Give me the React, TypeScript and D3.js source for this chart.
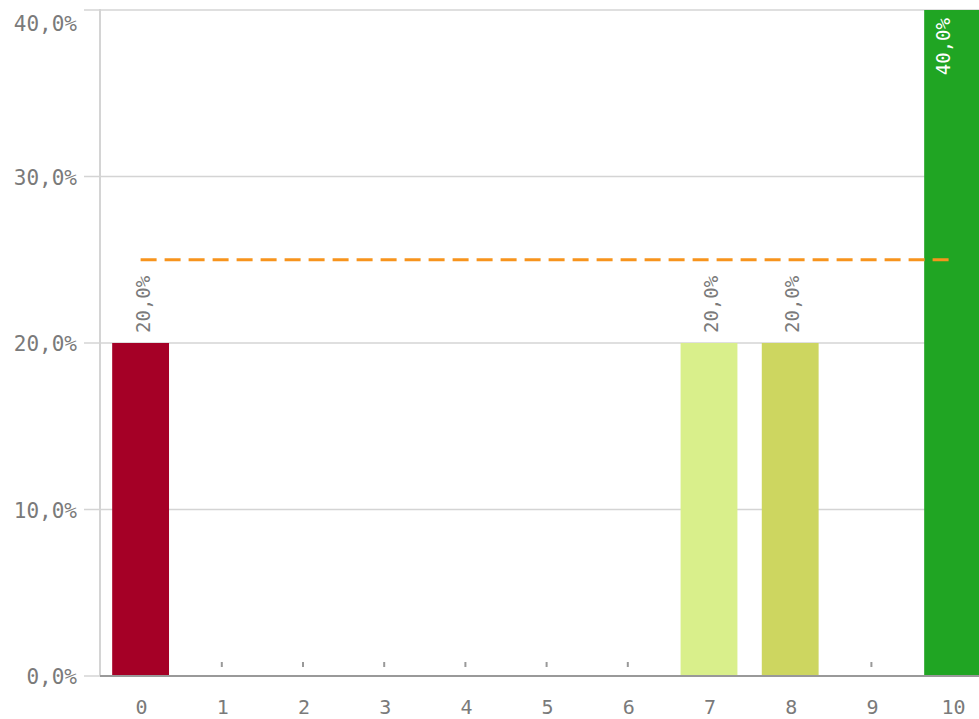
import React, { useEffect, useRef } from "react";
import { select, scaleBand, scaleLinear, format } from "d3";

const categories = ["0", "1", "2", "3", "4", "5", "6", "7", "8", "9", "10"];
const shares = [20, 0, 0, 0, 0, 0, 0, 20, 20, 0, 40];
const barColors = ["#a50026", "#a50026", "#a50026", "#a50026", "#a50026", "#a50026", "#a50026", "#d9ef8b", "#cdd660", "#1a9641", "#20a523"];
const yTicks = [0, 10, 20, 30, 40];
const targetValue = 25;

const fmt = (v: number) => format(".1f")(v).replace(".", ",") + "%";

const App = () => {
    const ref = useRef<SVGSVGElement>(null);

    useEffect(() => {
        const width = 979;
        const svg = select(ref.current);
        svg.selectAll("*").remove();

        const left = 100;
        const top = 10;
        const bottom = 676;

        const x = scaleBand<string>().domain(categories).range([left, left + 11 * 81.2]).paddingInner(0.3).paddingOuter(0.15);
        const y = scaleLinear().domain([0, 40]).range([bottom, top]);
        const font = "'DejaVu Sans Mono', monospace";
        const textColor = "#7a7a7a";

        // gridlines
        svg.append("g")
            .selectAll("line")
            .data(yTicks)
            .join("line")
            .attr("x1", 84)
            .attr("x2", width)
            .attr("y1", (d) => y(d))
            .attr("y2", (d) => y(d))
            .attr("stroke", "#d4d4d4")
            .attr("stroke-width", 1.5);

        // y labels (top one kept inside the plot)
        svg.append("g")
            .selectAll("text")
            .data(yTicks)
            .join("text")
            .attr("x", 77)
            .attr("y", (d) => Math.max(y(d), top + 13) + 8)
            .attr("text-anchor", "end")
            .attr("font-family", font)
            .attr("font-size", 21)
            .attr("fill", textColor)
            .text((d) => fmt(d));

        // y axis line
        svg.append("line")
            .attr("x1", left)
            .attr("x2", left)
            .attr("y1", top - 1)
            .attr("y2", bottom)
            .attr("stroke", "#d4d4d4")
            .attr("stroke-width", 2);

        // x ticks
        svg.append("g")
            .selectAll("line")
            .data(categories)
            .join("line")
            .attr("x1", (d) => (x(d) as number) + x.bandwidth() / 2)
            .attr("x2", (d) => (x(d) as number) + x.bandwidth() / 2)
            .attr("y1", bottom - 14)
            .attr("y2", bottom - 9)
            .attr("stroke", "#999")
            .attr("stroke-width", 2);

        // bars
        svg.append("g")
            .selectAll("rect")
            .data(shares)
            .join("rect")
            .attr("x", (_, i) => x(categories[i]) as number)
            .attr("width", x.bandwidth())
            .attr("y", (d) => y(d))
            .attr("height", (d) => bottom - y(d))
            .attr("fill", (_, i) => barColors[i]);

        // x axis line
        svg.append("line")
            .attr("x1", left)
            .attr("x2", width)
            .attr("y1", bottom)
            .attr("y2", bottom)
            .attr("stroke", "#999")
            .attr("stroke-width", 2);

        svg.append("g")
            .selectAll("text")
            .data(categories)
            .join("text")
            .attr("x", (d) => (x(d) as number) + x.bandwidth() / 2 + 1)
            .attr("y", 714)
            .attr("text-anchor", "middle")
            .attr("font-family", font)
            .attr("font-size", 20)
            .attr("fill", textColor)
            .text((d) => d);

        // target line
        svg.append("line")
            .attr("x1", (x("0") as number) + x.bandwidth() / 2)
            .attr("x2", (x("10") as number) + x.bandwidth() / 2)
            .attr("y1", y(targetValue))
            .attr("y2", y(targetValue))
            .attr("stroke", "#f7941d")
            .attr("stroke-width", 3)
            .attr("stroke-dasharray", "16,8");

        // value labels
        const maxV = Math.max(...shares);
        svg.append("g")
            .selectAll("text")
            .data(shares.map((v, i) => ({ v, c: categories[i] })).filter((d) => d.v > 0))
            .join("text")
            .attr("transform", (d) => {
                const inside = d.v === maxV;
                const cx = (x(d.c) as number) + x.bandwidth() / 2 + (inside ? -3 : 9);
                const cy = inside ? y(d.v) + 8 : y(d.v) - 10;
                return `translate(${cx},${cy}) rotate(-90)`;
            })
            .attr("text-anchor", (d) => (d.v === maxV ? "end" : "start"))
            .attr("font-family", font)
            .attr("font-size", 19)
            .attr("fill", (d) => (d.v === maxV ? "#fff" : textColor))
            .text((d) => fmt(d.v));
    }, []);

    return <svg ref={ref} width={979} height={719} style={{ position: "absolute", left: 0, top: 0, background: "#fff" }} />;
};

export default App;
